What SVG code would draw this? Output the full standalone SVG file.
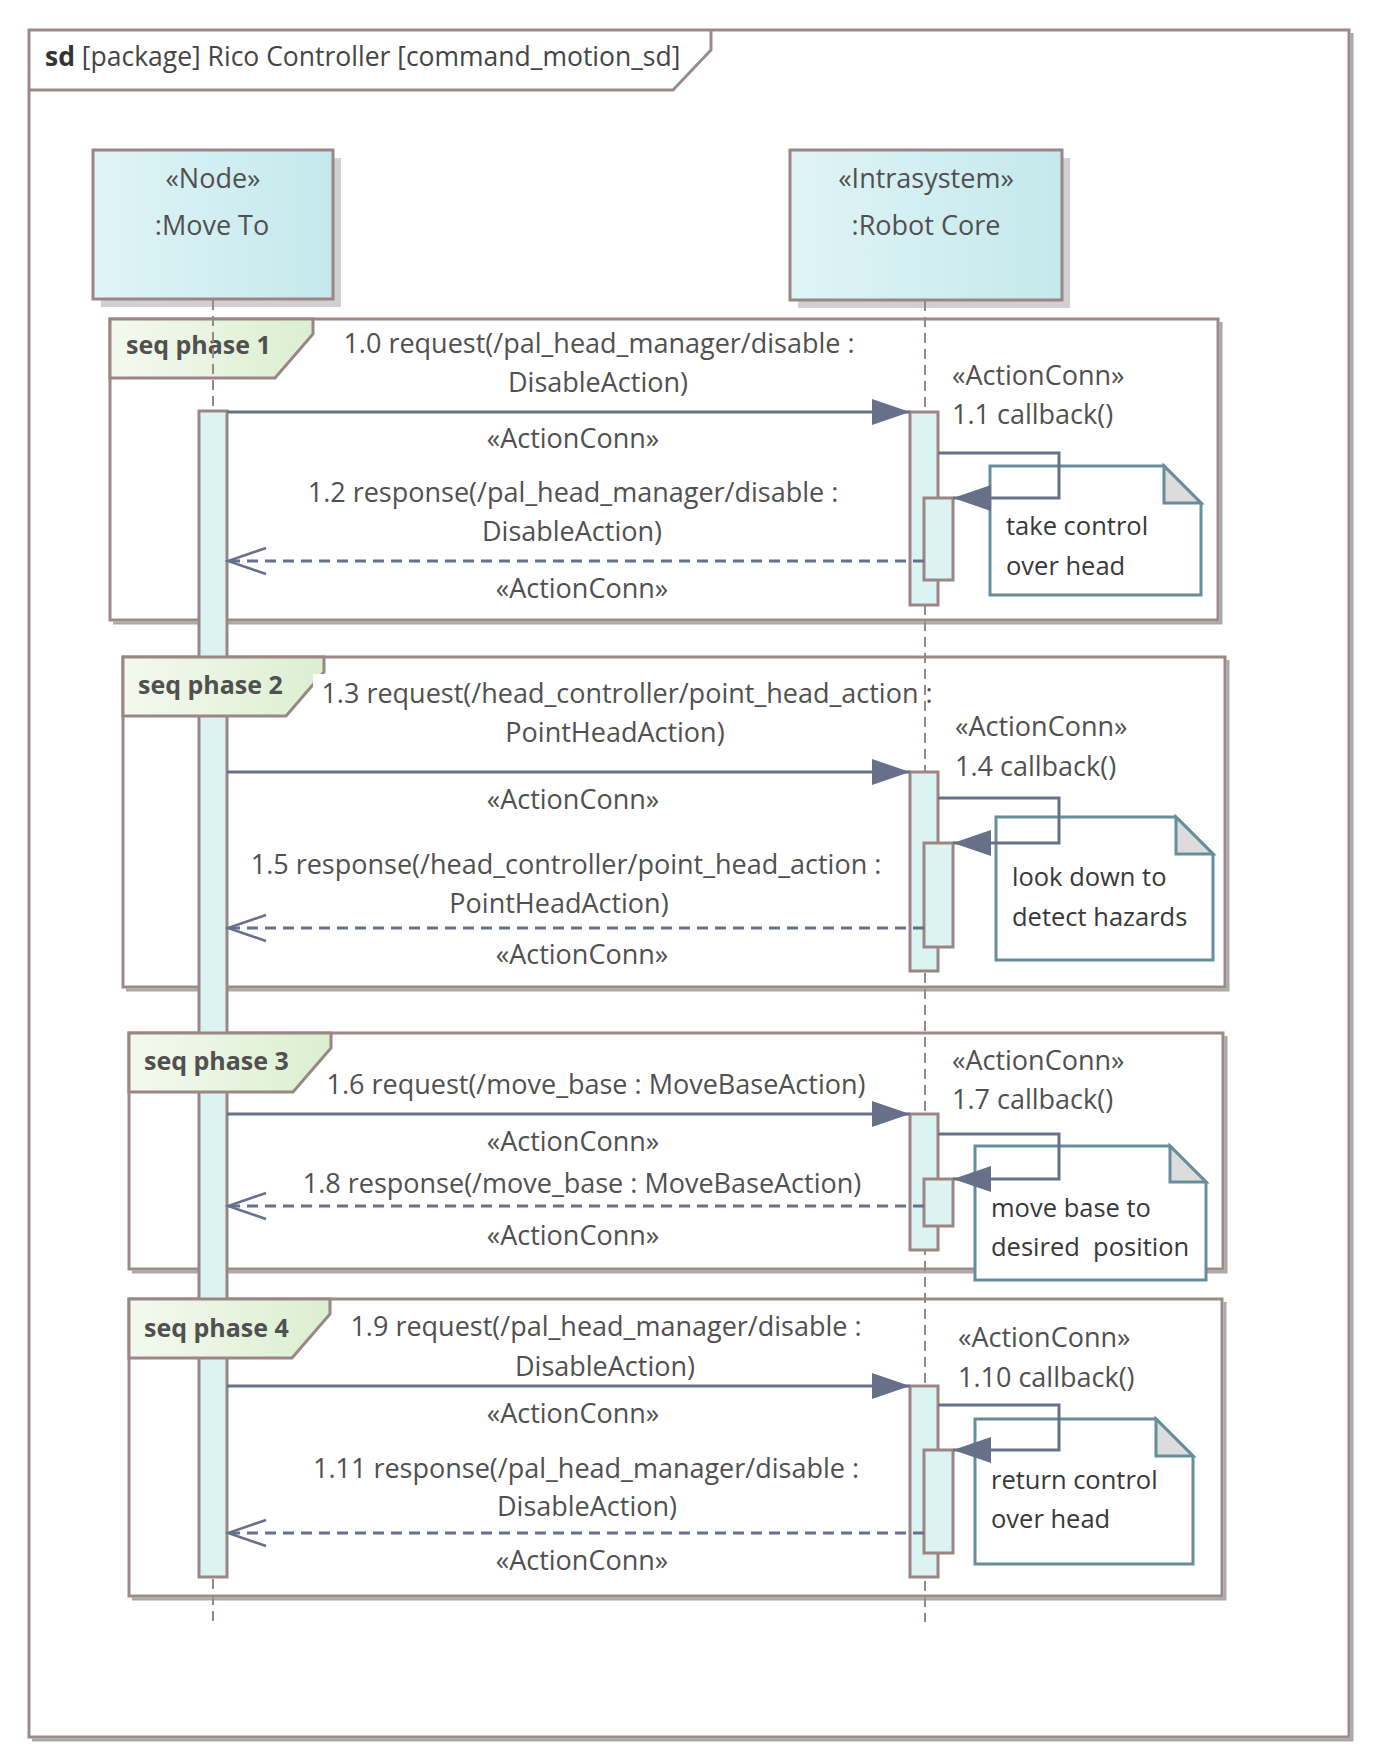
<svg xmlns="http://www.w3.org/2000/svg" width="1377" height="1764" viewBox="0 0 1377 1764">
<style>
text{font-family:"Open Sans","Noto Sans","DejaVu Sans",sans-serif;}
.t{font-size:27px;fill:#505050;}
.c{text-anchor:middle;}
.nt{font-size:25.5px;fill:#383838;}
.lbl{font-size:25px;font-weight:bold;fill:#505050;}
.frm{fill:none;stroke:#9c8a8a;stroke-width:3;}
.sh{fill:none;stroke:#a9a9a9;stroke-width:3;}
.box{fill:url(#ng);stroke:#9c8585;stroke-width:3;}
.bsh{fill:#d0d0d0;}
.tab{fill:url(#tg);stroke:#9c8585;stroke-width:3;}
.life{stroke:#9c8585;stroke-width:2;stroke-dasharray:10 6;fill:none;}
.act{fill:#dcf3f4;stroke:#9c8585;stroke-width:3;}
.msg{stroke:#667088;stroke-width:3;fill:none;}
.ret{stroke:#667088;stroke-width:3;fill:none;stroke-dasharray:11 7;}
.note{fill:#ffffff;stroke:#668d9b;stroke-width:3;}
.fold{fill:#dcdcdc;stroke:#668d9b;stroke-width:3;stroke-linejoin:miter;}
</style>
<defs>
<linearGradient id="ng" x1="0" y1="0" x2="1" y2="0">
<stop offset="0" stop-color="#e0f4f6"/><stop offset="1" stop-color="#c4e9ec"/>
</linearGradient>
<linearGradient id="tg" x1="0" y1="0" x2="1" y2="0">
<stop offset="0" stop-color="#f4f9ef"/><stop offset="1" stop-color="#dbefd0"/>
</linearGradient>
<marker id="fa" markerUnits="userSpaceOnUse" markerWidth="40" markerHeight="28" refX="38" refY="13" orient="auto">
<path d="M0,0 L38,13 L0,26 z" fill="#667088"/>
</marker>
<marker id="oa" markerUnits="userSpaceOnUse" markerWidth="42" markerHeight="32" refX="39" refY="15" orient="auto">
<path d="M1,2 L39,15 L1,28" fill="none" stroke="#667088" stroke-width="2.5"/>
</marker>
</defs>
<rect width="1377" height="1764" fill="#ffffff"/>

<g id="frame">
<path class="sh" d="M1352,33 V1740 H32"/>
<rect class="frm" x="29" y="30" width="1320" height="1707"/>
<path class="frm" d="M29,90 H673 L711,50 V30"/>
<text x="45" y="66" style="font-size:26.5px;fill:#454545"><tspan style="font-weight:bold;fill:#333">sd</tspan> [package] Rico Controller [command_motion_sd]</text>
</g>

<g id="fragment-phase1">
<path class="sh" d="M1221,322 V623 H113"/>
<rect class="frm" x="110" y="319" width="1108" height="301"/>
</g>
<g id="fragment-phase2">
<path class="sh" d="M1228,660 V990 H126"/>
<rect class="frm" x="123" y="657" width="1102" height="330"/>
</g>
<g id="fragment-phase3">
<path class="sh" d="M1226,1036 V1272 H132"/>
<rect class="frm" x="129" y="1033" width="1094" height="236"/>
</g>
<g id="fragment-phase4">
<path class="sh" d="M1225,1302 V1599 H132"/>
<rect class="frm" x="129" y="1299" width="1093" height="297"/>
</g>

<g id="node-moveto">
<rect class="bsh" x="101" y="158" width="240" height="149"/>
<rect class="box" x="93" y="150" width="240" height="149"/>
<text class="t c" x="213" y="188">«Node»</text>
<text class="t c" x="212" y="235">:Move To</text>
<rect class="act" x="199" y="411" width="28" height="1166"/>
</g>

<g id="fragment-tabs">
<path class="tab" d="M110,319 H313 V334 L275,378 H110 Z"/>
<text class="lbl" x="126" y="354">seq phase 1</text>
<path class="tab" d="M123,657 H324 V672 L286,716 H123 Z"/>
<text class="lbl" x="138" y="694">seq phase 2</text>
<path class="tab" d="M129,1033 H331 V1048 L293,1092 H129 Z"/>
<text class="lbl" x="144" y="1070">seq phase 3</text>
<path class="tab" d="M129,1299 H330 V1314 L292,1358 H129 Z"/>
<text class="lbl" x="144" y="1337">seq phase 4</text>
</g>

<g id="lifeline-moveto">
<line class="life" x1="213" y1="300" x2="213" y2="410"/>
<line class="life" x1="213" y1="1579" x2="213" y2="1622"/>
</g>

<g id="node-robotcore">
<rect class="bsh" x="798" y="158" width="272" height="150"/>
<rect class="box" x="790" y="150" width="272" height="150"/>
<text class="t c" x="926" y="188">«Intrasystem»</text>
<text class="t c" x="926" y="235">:Robot Core</text>
<line class="life" x1="925" y1="301" x2="925" y2="1622"/>
<rect class="act" x="910" y="412" width="28" height="193"/>
<rect class="act" x="924" y="498" width="29" height="82"/>
<rect class="act" x="910" y="772" width="28" height="199"/>
<rect class="act" x="924" y="843" width="29" height="104"/>
<rect class="act" x="910" y="1114" width="28" height="136"/>
<rect class="act" x="924" y="1179" width="29" height="47"/>
<rect class="act" x="910" y="1386" width="28" height="191"/>
<rect class="act" x="924" y="1450" width="29" height="103"/>
</g>

<g id="note1">
<path class="note" d="M990,466 H1164 L1201,503 V595 H990 Z"/>
<path class="fold" d="M1164,466 V503 H1201 Z"/>
<text class="nt" x="1006" y="535">take control</text>
<text class="nt" x="1006" y="575">over head</text>
</g>
<g id="note2">
<path class="note" d="M996,817 H1176 L1213,854 V960 H996 Z"/>
<path class="fold" d="M1176,817 V854 H1213 Z"/>
<text class="nt" x="1012" y="886">look down to</text>
<text class="nt" x="1012" y="926">detect hazards</text>
</g>
<g id="note3">
<path class="note" d="M975,1146 H1170 L1206,1182 V1280 H975 Z"/>
<path class="fold" d="M1170,1146 V1182 H1206 Z"/>
<text class="nt" x="991" y="1217">move base to</text>
<text class="nt" x="991" y="1256" xml:space="preserve">desired  position</text>
</g>
<g id="note4">
<path class="note" d="M975,1419 H1156 L1193,1456 V1564 H975 Z"/>
<path class="fold" d="M1156,1419 V1456 H1193 Z"/>
<text class="nt" x="991" y="1489">return control</text>
<text class="nt" x="991" y="1528">over head</text>
</g>

<g id="connectors">
<line class="msg" x1="227" y1="412" x2="910" y2="412" marker-end="url(#fa)"/>
<polyline class="msg" points="938,453 1059,453 1059,498 953,498" marker-end="url(#fa)"/>
<line class="ret" x1="924" y1="561" x2="228" y2="561" marker-end="url(#oa)"/>

<line class="msg" x1="227" y1="772" x2="910" y2="772" marker-end="url(#fa)"/>
<polyline class="msg" points="938,798 1059,798 1059,843 953,843" marker-end="url(#fa)"/>
<line class="ret" x1="924" y1="928" x2="228" y2="928" marker-end="url(#oa)"/>

<line class="msg" x1="227" y1="1114" x2="910" y2="1114" marker-end="url(#fa)"/>
<polyline class="msg" points="938,1134 1059,1134 1059,1179 953,1179" marker-end="url(#fa)"/>
<line class="ret" x1="924" y1="1206" x2="228" y2="1206" marker-end="url(#oa)"/>

<line class="msg" x1="227" y1="1386" x2="910" y2="1386" marker-end="url(#fa)"/>
<polyline class="msg" points="938,1405 1059,1405 1059,1450 953,1450" marker-end="url(#fa)"/>
<line class="ret" x1="924" y1="1533" x2="228" y2="1533" marker-end="url(#oa)"/>
</g>

<g id="labels">
<text class="t c" x="599" y="353">1.0 request(/pal_head_manager/disable :</text>
<text class="t c" x="598" y="392">DisableAction)</text>
<text class="t c" x="573" y="448">«ActionConn»</text>
<text class="t c" x="573" y="502">1.2 response(/pal_head_manager/disable :</text>
<text class="t c" x="572" y="541">DisableAction)</text>
<text class="t c" x="582" y="598">«ActionConn»</text>
<text class="t" x="952" y="385">«ActionConn»</text>
<text class="t" x="952" y="424">1.1 callback()</text>

<rect x="313" y="674" width="12" height="34" fill="#ffffff"/>
<text class="t c" x="627" y="703">1.3 request(/head_controller/point_head_action :</text>
<text class="t c" x="615" y="742">PointHeadAction)</text>
<text class="t c" x="573" y="809">«ActionConn»</text>
<text class="t c" x="566" y="874">1.5 response(/head_controller/point_head_action :</text>
<text class="t c" x="559" y="913">PointHeadAction)</text>
<text class="t c" x="582" y="964">«ActionConn»</text>
<text class="t" x="955" y="736">«ActionConn»</text>
<text class="t" x="955" y="776">1.4 callback()</text>

<text class="t c" x="596" y="1094">1.6 request(/move_base : MoveBaseAction)</text>
<text class="t c" x="573" y="1151">«ActionConn»</text>
<text class="t c" x="582" y="1193">1.8 response(/move_base : MoveBaseAction)</text>
<text class="t c" x="573" y="1245">«ActionConn»</text>
<text class="t" x="952" y="1070">«ActionConn»</text>
<text class="t" x="952" y="1109">1.7 callback()</text>

<text class="t c" x="606" y="1336">1.9 request(/pal_head_manager/disable :</text>
<text class="t c" x="605" y="1376">DisableAction)</text>
<text class="t c" x="573" y="1423">«ActionConn»</text>
<text class="t c" x="586" y="1478">1.11 response(/pal_head_manager/disable :</text>
<text class="t c" x="587" y="1516">DisableAction)</text>
<text class="t c" x="582" y="1570">«ActionConn»</text>
<text class="t" x="958" y="1347">«ActionConn»</text>
<text class="t" x="958" y="1387">1.10 callback()</text>
</g>
</svg>
